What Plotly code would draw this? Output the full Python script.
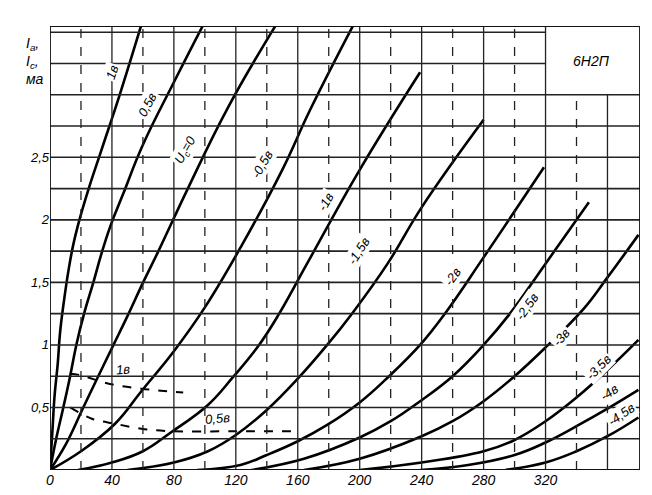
import plotly.graph_objects as go

# Anode characteristics of 6N2P: (Ua, Ia) points per grid voltage
grid_names = ["1в", "0,5в", "U<sub>c</sub>=0", "-0,5в", "-1в", "-1,5в", "-2в", "-2,5в", "-3в", "-3,5в", "-4в", "-4,5в"]
ua_p1 = [0, 1.5, 3, 5, 6.5, 9, 12, 15, 19, 25, 33, 45, 59]
ia_p1 = [0, 0.3, 0.6, 0.85, 1.1, 1.35, 1.6, 1.8, 2.0, 2.25, 2.55, 3.0, 3.56]
ua_p05 = [0, 4, 8.6, 13, 17, 22, 28, 33, 39, 47, 60, 80, 99]
ia_p05 = [0, 0.25, 0.5, 0.75, 1.0, 1.25, 1.5, 1.72, 1.95, 2.2, 2.6, 3.1, 3.56]
ua_0 = [0, 10, 21.5, 30, 41, 50, 59, 70, 89, 115, 146]
ia_0 = [0, 0.2, 0.5, 0.72, 1.0, 1.23, 1.47, 1.75, 2.25, 2.9, 3.56]
ua_m05 = [0, 20, 42, 59, 80, 100, 124, 150, 168, 196]
ia_m05 = [0, 0.15, 0.37, 0.63, 0.95, 1.3, 1.8, 2.4, 2.88, 3.56]
ua_m1 = [18, 40, 60, 78, 102, 118, 135, 148, 166, 200, 239]
ia_m1 = [0, 0.06, 0.15, 0.3, 0.52, 0.74, 1.0, 1.25, 1.65, 2.4, 3.18]
ua_m15 = [50, 80, 102, 120, 140, 160, 179, 195, 218, 240, 280]
ia_m15 = [0, 0.06, 0.15, 0.28, 0.48, 0.73, 1.0, 1.25, 1.65, 2.1, 2.80]
ua_m2 = [95, 123, 140, 160, 179, 200, 219, 239, 255, 280, 319]
ia_m2 = [0, 0.04, 0.12, 0.23, 0.36, 0.54, 0.75, 1.0, 1.25, 1.7, 2.42]
ua_m25 = [130, 164, 200, 220, 239, 260, 280, 297, 320, 348]
ia_m25 = [0, 0.09, 0.26, 0.39, 0.55, 0.75, 1.0, 1.25, 1.65, 2.14]
ua_m3 = [164, 200, 240, 260, 280, 300, 320, 344, 360, 380]
ia_m3 = [0, 0.09, 0.27, 0.39, 0.55, 0.75, 0.98, 1.28, 1.54, 1.88]
ua_m35 = [200, 240, 280, 300, 320, 340, 360, 380]
ia_m35 = [0, 0.06, 0.15, 0.24, 0.39, 0.58, 0.8, 1.04]
ua_m4 = [239, 270, 300, 320, 340, 360, 380]
ia_m4 = [0, 0.04, 0.12, 0.22, 0.35, 0.49, 0.64]
ua_m45 = [294, 320, 340, 360, 380]
ia_m45 = [0, 0.06, 0.15, 0.27, 0.42]
curves_u = [ua_p1, ua_p05, ua_0, ua_m05, ua_m1, ua_m15, ua_m2, ua_m25, ua_m3, ua_m35, ua_m4, ua_m45]
curves_i = [ia_p1, ia_p05, ia_0, ia_m05, ia_m1, ia_m15, ia_m2, ia_m25, ia_m3, ia_m35, ia_m4, ia_m45]
# label anchor positions and angles
label_u = [40, 63, 88, 137, 178, 199, 260, 308, 330, 354, 361, 369]
label_i = [3.18, 2.92, 2.56, 2.44, 2.15, 1.75, 1.55, 1.31, 1.06, 0.82, 0.62, 0.44]
label_ang = [-72, -62, -60, -60, -60, -58, -55, -55, -50, -45, -35, -35]

# Grid current (dashed)
ic_names = ["1в", "0,5в"]
ic_u1 = [13, 19, 38, 59, 86]
ic_i1 = [0.77, 0.76, 0.69, 0.65, 0.62]
ic_u05 = [13, 27, 42, 59, 78, 120, 160]
ic_i05 = [0.5, 0.41, 0.37, 0.33, 0.31, 0.31, 0.31]
ic_label_u = [47, 108]
ic_label_i = [0.8, 0.41]

x_ticks = [0, 40, 80, 120, 160, 200, 240, 280, 320]
y_ticks = [0.5, 1, 1.5, 2, 2.5]
y_ticktext = ["0,5", "1", "1,5", "2", "2,5"]

FONT = "Liberation Sans"
fig = go.Figure()

shapes = []
for k in range(1, 19):
    u = 20 * k
    y1 = 3.0 if u > 320 else 3.55
    shapes.append(dict(type="line", x0=u, x1=u, y0=0, y1=y1, xref="x", yref="y",
                       line=dict(color="#222", width=1.3, dash="solid" if k % 2 == 0 else "dash")))
for k in range(1, 15):
    v = 0.25 * k
    x1 = 320 if v > 3.0 else 381
    shapes.append(dict(type="line", x0=0, x1=x1, y0=v, y1=v, xref="x", yref="y",
                       line=dict(color="#222", width=1.6)))
shapes.append(dict(type="rect", x0=0, x1=381, y0=0, y1=3.55, xref="x", yref="y",
                   line=dict(color="#111", width=1.8)))

for u, i in zip(curves_u, curves_i):
    fig.add_trace(go.Scatter(x=u, y=i, mode="lines", line=dict(color="black", width=2.6, shape="spline", smoothing=1.2),
                             showlegend=False, hoverinfo="skip"))
fig.add_trace(go.Scatter(x=ic_u1, y=ic_i1, mode="lines", line=dict(color="black", width=2, dash="dash", shape="spline"),
                         showlegend=False))
fig.add_trace(go.Scatter(x=ic_u05, y=ic_i05, mode="lines", line=dict(color="black", width=2, dash="dash", shape="spline"),
                         showlegend=False))

ann = []
for n, u, i, a in zip(grid_names, label_u, label_i, label_ang):
    ann.append(dict(x=u, y=i, text=n, showarrow=False, textangle=a, bgcolor="white",
                    font=dict(family=FONT, size=13, style="italic", color="black")))
for n, u, i in zip(ic_names, ic_label_u, ic_label_i):
    ann.append(dict(x=u, y=i, text=n, showarrow=False, textangle=-5,
                    font=dict(family=FONT, size=13, style="italic", color="black")))
ann.append(dict(x=350, y=3.27, text="6Н2П", showarrow=False,
                font=dict(family=FONT, size=14, style="italic", color="black")))
ann.append(dict(x=360, y=-0.12, text="U<sub>a</sub>, в", showarrow=False,
                font=dict(family=FONT, size=14, style="italic", color="black")))
ann.append(dict(x=0, y=3.27, xref="paper", yref="y", xanchor="right", xshift=-4,
                text="I<sub>a</sub>,<br>I<sub>c</sub>,<br>ма", showarrow=False, align="left",
                font=dict(family=FONT, size=14, style="italic", color="black")))

fig.update_layout(
    width=652, height=495, margin=dict(l=42, r=20, t=18, b=33),
    paper_bgcolor="white", plot_bgcolor="white",
    shapes=shapes, annotations=ann,
    xaxis=dict(range=[0, 381], tickvals=x_ticks, showgrid=False, zeroline=False, ticks="",
               tickfont=dict(family=FONT, size=14, style="italic", color="black")),
    yaxis=dict(range=[0, 3.55], tickvals=y_ticks, ticktext=y_ticktext, showgrid=False, zeroline=False,
               ticks="", tickfont=dict(family=FONT, size=13, style="italic", color="black")),
)
fig.write_html("out.html")
